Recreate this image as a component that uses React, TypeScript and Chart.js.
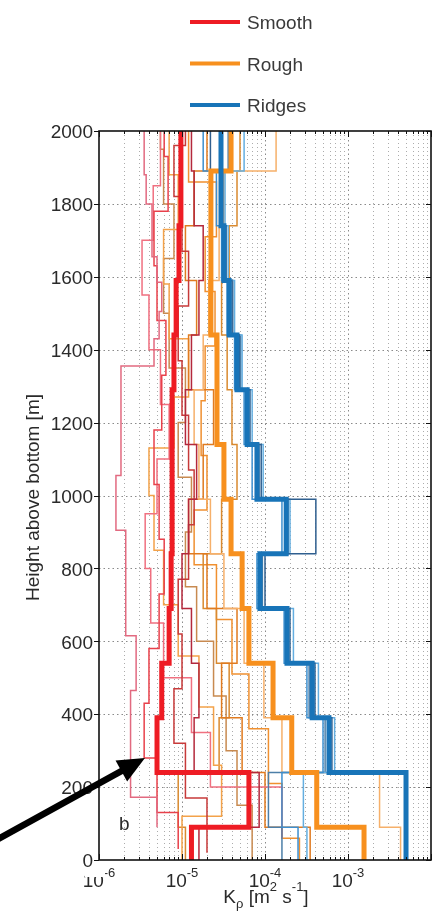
import React, { useEffect, useRef } from 'react';
import { Chart, registerables } from 'chart.js';

Chart.register(...registerables);

const FONT = '"Liberation Sans", Arial, Helvetica, sans-serif';
const TEXT = '#2a2a2a';

// ---------- data (K_rho in m^2 s^-1, heights in m; bins listed bottom-up) ----------
const edgesMean = [0, 90, 240, 390, 540, 690, 840, 990, 1140, 1290, 1440, 1590, 1740, 1890, 2000];
const smoothMean = [1.3e-5, 6.4e-5, 5.0e-6, 5.7e-6, 7.0e-6, 7.4e-6, 7.6e-6, 7.6e-6, 7.6e-6, 8.0e-6, 8.5e-6, 9.2e-6, 9.7e-6, 9.7e-6];
const roughMean = [1.56e-3, 4.2e-4, 2.1e-4, 1.25e-4, 6.4e-5, 5.3e-5, 3.9e-5, 3.2e-5, 2.64e-5, 2.64e-5, 2.23e-5, 2.23e-5, 2.23e-5, 3.9e-5];
const ridgesMean = [5.0e-3, 5.0e-3, 5.9e-4, 3.7e-4, 1.84e-4, 8.7e-5, 1.8e-4, 8.0e-5, 6.1e-5, 4.6e-5, 3.7e-5, 3.2e-5, 2.95e-5, 2.95e-5];

// individual Smooth profiles
const smooth1Edges = [90, 172, 465, 615, 905, 1055, 1355, 1430, 1505, 1585, 1655, 1800, 1880, 2000];
const smooth1 = [5.0e-6, 2.4e-6, 2.8e-6, 2.1e-6, 1.6e-6, 1.84e-6, 4.6e-6, 5.3e-6, 5.7e-6, 5.0e-6, 4.35e-6, 3.7e-6, 3.5e-6];
const smooth2 = [1.6e-5, 8.5e-5, 1.4e-5, 1.6e-5, 1.3e-5, 1.0e-5, 1.2e-5, 1.5e-5, 1.1e-5, 1.3e-5, 1.6e-5, 1.8e-5, 1.4e-5, 1.3e-5];
const smooth3Edges = [30, 130, 280, 430, 580, 730, 880, 1030, 1180, 1330, 1480, 1630, 1780, 1930, 2000];
const smooth3 = [9.0e-6, 5.0e-6, 3.5e-6, 4.0e-6, 5.3e-6, 6.1e-6, 5.3e-6, 4.6e-6, 5.7e-6, 6.4e-6, 5.0e-6, 4.6e-6, 6.8e-6, 6.1e-6];
const smooth4Edges = [20, 170, 320, 470, 620, 770, 920, 1070, 1220, 1370, 1520, 1670, 1820, 1960, 2000];
const smooth4 = [2.0e-5, 1.1e-5, 8.0e-6, 1.0e-5, 9.0e-6, 1.2e-5, 1.4e-5, 1.2e-5, 1.0e-5, 9.0e-6, 1.2e-5, 1.0e-5, 8.0e-6, 1.1e-5];
const smooth5Edges = [60, 200, 350, 500, 650, 800, 950, 1100, 1250, 1400, 1550, 1700, 1850, 2000];
const smooth5 = [1.6e-4, 2.2e-5, 1.3e-5, 6.0e-6, 4.2e-6, 3.6e-6, 5.0e-6, 7.0e-6, 5.5e-6, 4.0e-6, 3.3e-6, 4.5e-6, 5.5e-6];

// individual Rough profiles
const rough1 = [4.3e-3, 2.4e-3, 1.6e-4, 9.7e-5, 5.6e-5, 3.2e-5, 2.2e-5, 1.6e-5, 1.4e-5, 1.8e-5, 2.1e-5, 2.8e-5, 3.2e-5, 1.36e-4];
const rough2 = [3.5e-4, 1.0e-4, 5.3e-5, 3.0e-5, 4.6e-5, 2.0e-5, 1.2e-5, 1.8e-5, 2.4e-5, 1.2e-5, 1.5e-5, 1.1e-5, 1.4e-5, 2.0e-5];
const rough3Edges = [0, 120, 260, 420, 560, 700, 850, 1000, 1130, 1270, 1430, 1580, 1730, 1880, 2000];
const rough3 = [1.0e-5, 3.0e-5, 2.4e-5, 1.6e-5, 9.0e-6, 6.0e-6, 4.6e-6, 4.0e-6, 8.0e-6, 1.2e-5, 7.0e-6, 6.0e-6, 9.0e-6, 7.0e-6];
const rough4 = [1.1e-5, 9.0e-6, 2.8e-5, 3.7e-5, 2.6e-5, 1.8e-5, 3.0e-5, 4.6e-5, 4.0e-5, 3.5e-5, 3.0e-5, 3.7e-5, 4.6e-5, 5.0e-5];
const rough5Edges = [0, 60, 210, 360, 510, 660, 810, 960, 1110, 1260, 1410, 1560, 1710, 1860, 2000];
const rough5 = [2.6e-4, 1.6e-4, 1.1e-4, 6.4e-5, 4.0e-5, 2.6e-5, 1.4e-5, 2.0e-5, 1.7e-5, 1.9e-5, 2.5e-5, 1.9e-5, 2.6e-5, 1.2e-5];
const rough6Edges = [0, 150, 300, 450, 600, 750, 900, 1050, 1200, 1350, 1500, 1650, 1800, 1950, 2000];
const rough6 = [7.0e-5, 4.6e-5, 3.4e-5, 2.4e-5, 1.5e-5, 1.1e-5, 1.3e-5, 9.0e-6, 1.1e-5, 7.0e-6, 6.0e-6, 8.0e-6, 6.0e-6, 5.5e-6];

// individual Ridges profiles
const ridges1 = [5.0e-3, 5.0e-3, 6.4e-4, 4.0e-4, 2.0e-4, 1.0e-4, 4.1e-4, 9.0e-5, 6.6e-5, 4.9e-5, 4.0e-5, 3.4e-5, 3.0e-5, 2.2e-5];
const ridges2 = [2.5e-4, 1.6e-4, 5.0e-4, 3.2e-4, 1.7e-4, 8.0e-5, 1.6e-4, 7.0e-5, 5.6e-5, 4.3e-5, 3.5e-5, 3.0e-5, 2.6e-5, 1.8e-5];
const ridges3 = [3.2e-4, 2.9e-4, 6.9e-4, 4.4e-4, 2.2e-4, 9.0e-5, 2.0e-4, 9.5e-5, 7.0e-5, 5.3e-5, 4.3e-5, 3.6e-5, 3.3e-5, 5.6e-5];
const ridges4 = [1.6e-4, 1.1e-4, 5.3e-4, 3.4e-4, 1.9e-4, 9.3e-5, 1.9e-4, 8.5e-5, 6.3e-5, 5.1e-5, 4.1e-5, 3.3e-5, 3.1e-5, 3.6e-5];

// axes
const yTicks = [0, 200, 400, 600, 800, 1000, 1200, 1400, 1600, 1800, 2000];
const xMajor = [1e-6, 1e-5, 1e-4, 1e-3, 1e-2];
const xTickExponents = ['-6', '-5', '-4', '-3'];
const xMinorFactors = [2, 3, 4, 5, 6, 7, 8, 9];
const xMin = 1e-6;
const xMax = 1e-2;
const yMin = 0;
const yMax = 2000;

const legendLabels = ['Smooth', 'Rough', 'Ridges'];
const RED = '#ee1c24';
const ORANGE = '#f7901e';
const BLUE = '#1874b8';
const legendColors = [RED, ORANGE, BLUE];

// annotation anchors (data coordinates)
const arrowTip = { x: 3.58e-6, y: 280 };
const panelLabel = { x: 1.74e-6, y: 82, text: 'b' };

function steps(edges: number[], vals: number[]) {
  const pts: { x: number; y: number }[] = [];
  for (let i = 0; i < vals.length; i++) {
    pts.push({ x: vals[i], y: edges[i] });
    pts.push({ x: vals[i], y: edges[i + 1] });
  }
  return pts;
}

function ds(edges: number[], vals: number[], color: string, width: number, order: number) {
  return {
    data: steps(edges, vals),
    showLine: true,
    borderColor: color,
    backgroundColor: color,
    borderWidth: width,
    pointRadius: 0,
    pointHoverRadius: 0,
    fill: false,
    tension: 0,
    order,
    borderJoinStyle: 'miter' as const,
    borderCapStyle: 'butt' as const,
  };
}

function richWidth(ctx: CanvasRenderingContext2D, parts: { t: string; size: number; dy: number }[]) {
  let w = 0;
  for (const p of parts) {
    ctx.font = `${p.size}px ${FONT}`;
    w += ctx.measureText(p.t).width;
  }
  return w;
}

function drawRich(ctx: CanvasRenderingContext2D, parts: { t: string; size: number; dy: number }[], cx: number, baseline: number) {
  let x = cx - richWidth(ctx, parts) / 2;
  ctx.textAlign = 'left';
  ctx.textBaseline = 'alphabetic';
  for (const p of parts) {
    ctx.font = `${p.size}px ${FONT}`;
    ctx.fillText(p.t, x, baseline + p.dy);
    x += ctx.measureText(p.t).width;
  }
}

const decorPlugin = {
  id: 'decor',
  beforeDatasetsDraw(chart: any) {
    const { ctx, chartArea: a, scales } = chart;
    const xs = scales.x;
    const ys = scales.y;
    ctx.save();
    ctx.lineWidth = 1;
    // minor vertical grid
    ctx.strokeStyle = 'rgba(70,70,70,0.45)';
    ctx.setLineDash([1, 3]);
    for (let d = 0; d < xMajor.length - 1; d++) {
      for (const m of xMinorFactors) {
        const px = Math.round(xs.getPixelForValue(m * xMajor[d])) + 0.5;
        ctx.beginPath();
        ctx.moveTo(px, a.top);
        ctx.lineTo(px, a.bottom);
        ctx.stroke();
      }
    }
    // major grid
    ctx.strokeStyle = 'rgba(60,60,60,0.6)';
    ctx.setLineDash([1.5, 3]);
    for (let d = 1; d < xMajor.length - 1; d++) {
      const px = Math.round(xs.getPixelForValue(xMajor[d])) + 0.5;
      ctx.beginPath();
      ctx.moveTo(px, a.top);
      ctx.lineTo(px, a.bottom);
      ctx.stroke();
    }
    for (const v of yTicks) {
      if (v === yMin || v === yMax) continue;
      const py = Math.round(ys.getPixelForValue(v)) + 0.5;
      ctx.beginPath();
      ctx.moveTo(a.left, py);
      ctx.lineTo(a.right, py);
      ctx.stroke();
    }
    ctx.restore();
  },
  afterDatasetsDraw(chart: any) {
    const { ctx, chartArea: a, scales } = chart;
    const xs = scales.x;
    const ys = scales.y;
    ctx.save();
    ctx.setLineDash([]);
    ctx.strokeStyle = '#111';
    // box
    ctx.lineWidth = 1.6;
    ctx.strokeRect(a.left, a.top, a.right - a.left, a.bottom - a.top);
    // x ticks (inward, bottom and top)
    ctx.lineWidth = 1;
    for (let d = 0; d < xMajor.length; d++) {
      const px = Math.round(xs.getPixelForValue(xMajor[d])) + 0.5;
      ctx.beginPath();
      ctx.moveTo(px, a.bottom);
      ctx.lineTo(px, a.bottom - 6);
      ctx.moveTo(px, a.top);
      ctx.lineTo(px, a.top + 6);
      ctx.stroke();
      if (d < xMajor.length - 1) {
        for (const m of xMinorFactors) {
          const qx = Math.round(xs.getPixelForValue(m * xMajor[d])) + 0.5;
          ctx.beginPath();
          ctx.moveTo(qx, a.bottom);
          ctx.lineTo(qx, a.bottom - 3);
          ctx.moveTo(qx, a.top);
          ctx.lineTo(qx, a.top + 3);
          ctx.stroke();
        }
      }
    }
    // y ticks: outside on left, inside on right
    ctx.lineWidth = 1.2;
    for (const v of yTicks) {
      const py = Math.round(ys.getPixelForValue(v)) + 0.5;
      ctx.beginPath();
      ctx.moveTo(a.left - 5, py);
      ctx.lineTo(a.left, py);
      ctx.moveTo(a.right, py);
      ctx.lineTo(a.right - 5, py);
      ctx.stroke();
    }
    ctx.fillStyle = TEXT;
    // x tick labels
    for (let i = 0; i < xTickExponents.length; i++) {
      const px = xs.getPixelForValue(xMajor[i]);
      drawRich(ctx, [
        { t: '10', size: 19, dy: 0 },
        { t: xTickExponents[i], size: 13, dy: -10 },
      ], px, a.bottom + 27);
    }
    // white mask at the lower left corner, as in the reference
    ctx.fillStyle = '#ffffff';
    ctx.fillRect(a.left - 14, a.bottom + 2, 20, 15);
    ctx.fillStyle = TEXT;
    // y tick labels
    ctx.font = `19px ${FONT}`;
    ctx.textAlign = 'right';
    ctx.textBaseline = 'middle';
    for (const v of yTicks) {
      ctx.fillText(String(v), a.left - 6, ys.getPixelForValue(v) + 2);
    }
    // y title
    ctx.save();
    ctx.translate(34, (a.top + a.bottom) / 2 + 2);
    ctx.rotate(-Math.PI / 2);
    ctx.textAlign = 'center';
    ctx.textBaseline = 'middle';
    ctx.font = `19px ${FONT}`;
    ctx.fillText('Height above bottom [m]', 0, 0);
    ctx.restore();
    // x title
    drawRich(ctx, [
      { t: 'K', size: 19, dy: 0 },
      { t: 'ρ', size: 13, dy: 5 },
      { t: ' [m', size: 19, dy: 0 },
      { t: '2', size: 13, dy: -12 },
      { t: ' s', size: 19, dy: 0 },
      { t: '-1', size: 13, dy: -12 },
      { t: ']', size: 19, dy: 0 },
    ], (a.left + a.right) / 2 + 1, a.bottom + 43);
    // legend
    for (let i = 0; i < legendLabels.length; i++) {
      const ly = 22 + i * 41.5;
      ctx.strokeStyle = legendColors[i];
      ctx.lineWidth = 4;
      ctx.beginPath();
      ctx.moveTo(190, ly);
      ctx.lineTo(240, ly);
      ctx.stroke();
      ctx.fillStyle = '#3a3a3a';
      ctx.font = `19px ${FONT}`;
      ctx.textAlign = 'left';
      ctx.textBaseline = 'alphabetic';
      ctx.fillText(legendLabels[i], 247, ly + 7);
    }
    // panel label
    ctx.fillStyle = TEXT;
    ctx.font = `19px ${FONT}`;
    ctx.textAlign = 'left';
    ctx.textBaseline = 'alphabetic';
    ctx.fillText(panelLabel.text, xs.getPixelForValue(panelLabel.x), ys.getPixelForValue(panelLabel.y));
    // arrow
    const tx = xs.getPixelForValue(arrowTip.x);
    const ty = ys.getPixelForValue(arrowTip.y);
    const sx = tx - 152;
    const sy = ty + 84;
    const ang = Math.atan2(ty - sy, tx - sx);
    const hl = 27;
    const hw = 12;
    const bx = tx - hl * Math.cos(ang);
    const by = ty - hl * Math.sin(ang);
    ctx.strokeStyle = '#000';
    ctx.fillStyle = '#000';
    ctx.lineWidth = 6.5;
    ctx.lineCap = 'butt';
    ctx.beginPath();
    ctx.moveTo(sx, sy);
    ctx.lineTo(bx + 2 * Math.cos(ang), by + 2 * Math.sin(ang));
    ctx.stroke();
    ctx.beginPath();
    ctx.moveTo(tx, ty);
    ctx.lineTo(bx - hw * Math.sin(ang), by + hw * Math.cos(ang));
    ctx.lineTo(bx + hw * Math.sin(ang), by - hw * Math.cos(ang));
    ctx.closePath();
    ctx.fill();
    ctx.restore();
  },
};

export default function App() {
  const ref = useRef<HTMLCanvasElement>(null);
  useEffect(() => {
    if (!ref.current) return;
    const datasets = [
      ds(edgesMean, smoothMean, RED, 5, 0),
      ds(edgesMean, ridgesMean, BLUE, 5, 1),
      ds(edgesMean, roughMean, ORANGE, 5, 2),
      ds(smooth1Edges, smooth1, '#e26a80', 1.5, 5),
      ds(edgesMean, smooth2, '#b4283c', 1.5, 5),
      ds(smooth3Edges, smooth3, '#e8414b', 1.5, 5),
      ds(smooth4Edges, smooth4, '#c73a3a', 1.5, 5),
      ds(smooth5Edges, smooth5, '#f07080', 1.5, 5),
      ds(edgesMean, rough1, '#f6b06a', 1.5, 6),
      ds(edgesMean, rough2, '#e07b20', 1.5, 6),
      ds(rough3Edges, rough3, '#f3a24a', 1.5, 6),
      ds(edgesMean, rough4, '#d98a30', 1.5, 6),
      ds(rough5Edges, rough5, '#f09030', 1.5, 6),
      ds(rough6Edges, rough6, '#c88a50', 1.5, 6),
      ds(edgesMean, ridges1, '#2f5f8f', 1.5, 4),
      ds(edgesMean, ridges2, '#3d8fcf', 1.5, 4),
      ds(edgesMean, ridges3, '#64aee0', 1.5, 4),
      ds(edgesMean, ridges4, '#4d7fa8', 1.5, 4),
    ];
    const chart = new Chart(ref.current, {
      type: 'scatter',
      data: { datasets },
      options: {
        responsive: false,
        animation: false,
        events: [],
        layout: { padding: { left: 99, right: 8, top: 131, bottom: 57 } },
        plugins: { legend: { display: false }, tooltip: { enabled: false } },
        scales: {
          x: { type: 'logarithmic', min: xMin, max: xMax, display: false },
          y: { type: 'linear', min: yMin, max: yMax, display: false },
        },
      },
      plugins: [decorPlugin],
    } as any);
    return () => chart.destroy();
  }, []);
  return (
    <div style={{ position: 'absolute', left: 0, top: 0, width: 439, height: 917, background: '#fff' }}>
      <canvas ref={ref} width={439} height={917} style={{ display: 'block', width: 439, height: 917 }} />
    </div>
  );
}
